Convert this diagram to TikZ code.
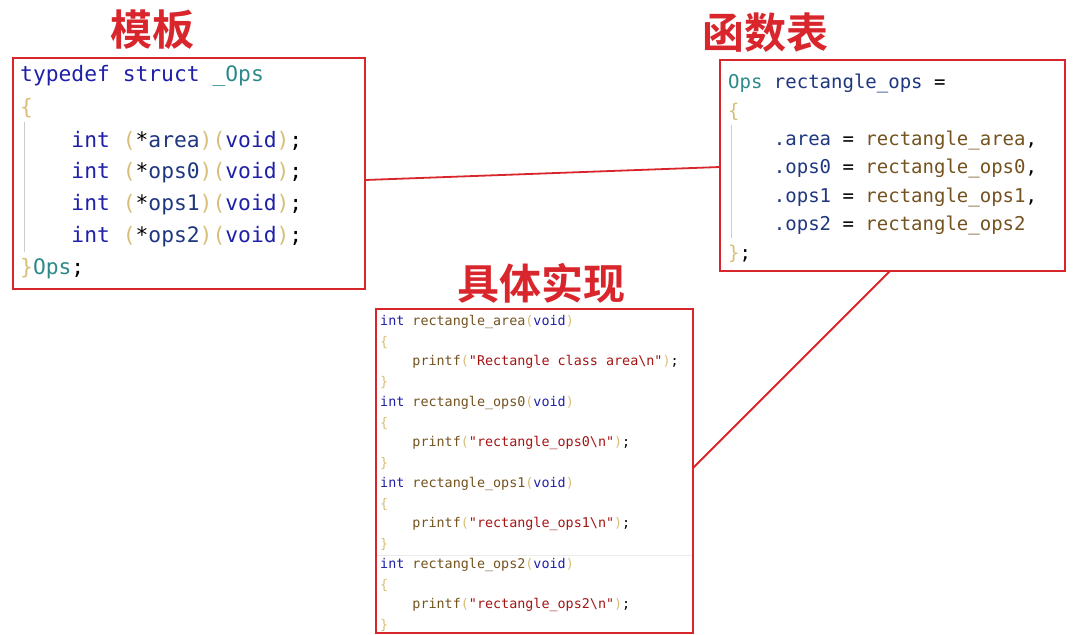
\documentclass[tikz,border=0pt]{standalone}
\usepackage{fontspec}
\setmonofont{DejaVu Sans Mono}
\newfontfamily\cjk{Noto Sans CJK SC Bold}
\definecolor{kw}{HTML}{1F1FA8}
\definecolor{ty}{HTML}{2E8A8A}
\definecolor{br}{HTML}{D8BE78}
\definecolor{fn}{HTML}{74531F}
\definecolor{st}{HTML}{A31515}
\definecolor{mb}{HTML}{1F377F}
\definecolor{bx}{HTML}{D9262C}
\begin{document}
\begin{tikzpicture}[x=1pt,y=-1pt,
  box/.style={draw=bx,line width=2pt},
  link/.style={draw=bx,line width=1.8pt},
  title/.style={text=bx,font=\cjk\fontsize{42}{44}\selectfont,inner sep=0pt},
  codeA/.style={anchor=west,inner sep=0pt,font=\ttfamily\fontsize{21.3}{24}\selectfont},
  codeB/.style={anchor=west,inner sep=0pt,font=\ttfamily\fontsize{19}{22}\selectfont},
  codeC/.style={anchor=west,inner sep=0pt,font=\ttfamily\fontsize{13.4}{16}\selectfont},
  guide/.style={draw=black!20,line width=0.6pt}]
\useasboundingbox (0,0) rectangle (1080,635);
\fill[white] (0,0) rectangle (1080,635);
% titles
\node[title] (t1) at (152,30) {模板};
\node[title] (t2) at (765,33) {函数表};
\node[title] (t3) at (541,283) {具体实现};
% boxes
\draw[box] (13,58) rectangle (365,289);
\coordinate (Lr) at (365,180);
\draw[box] (720,60) rectangle (1065,271);
\coordinate (Rl) at (720,167);
\coordinate (Rb) at (890,271);
\draw[box] (376,309) rectangle (693,633);
\coordinate (Br) at (693,468);
\draw[link] (Lr) -- (Rl);
\draw[link] (Rb) -- (Br);
% left code
\draw[guide] (24,122) -- (24,252);
\node[codeA] (a1) at (20,76) {\textcolor{kw}{typedef struct} \textcolor{ty}{\_Ops}};
\node[codeA] (a2) at (20,108) {\textcolor{br}{\{}};
\node[codeA] (a3) at (20,141) {\phantom{xxxx}\textcolor{kw}{int} \textcolor{br}{(}*\textcolor{mb}{area}\textcolor{br}{)(}\textcolor{kw}{void}\textcolor{br}{)};};
\node[codeA] (a4) at (20,173) {\phantom{xxxx}\textcolor{kw}{int} \textcolor{br}{(}*\textcolor{mb}{ops0}\textcolor{br}{)(}\textcolor{kw}{void}\textcolor{br}{)};};
\node[codeA] (a5) at (20,205) {\phantom{xxxx}\textcolor{kw}{int} \textcolor{br}{(}*\textcolor{mb}{ops1}\textcolor{br}{)(}\textcolor{kw}{void}\textcolor{br}{)};};
\node[codeA] (a6) at (20,237) {\phantom{xxxx}\textcolor{kw}{int} \textcolor{br}{(}*\textcolor{mb}{ops2}\textcolor{br}{)(}\textcolor{kw}{void}\textcolor{br}{)};};
\node[codeA] (a7) at (20,269) {\textcolor{br}{\}}\textcolor{ty}{Ops};};
% right code
\draw[guide] (731,125) -- (731,238);
\node[codeB] (b1) at (728,83) {\textcolor{ty}{Ops} \textcolor{mb}{rectangle\_ops} =};
\node[codeB] (b2) at (728,112) {\textcolor{br}{\{}};
\node[codeB] (b3) at (728,140) {\phantom{xxxx}\textcolor{mb}{.area} = \textcolor{fn}{rectangle\_area},};
\node[codeB] (b4) at (728,168) {\phantom{xxxx}\textcolor{mb}{.ops0} = \textcolor{fn}{rectangle\_ops0},};
\node[codeB] (b5) at (728,197) {\phantom{xxxx}\textcolor{mb}{.ops1} = \textcolor{fn}{rectangle\_ops1},};
\node[codeB] (b6) at (728,225) {\phantom{xxxx}\textcolor{mb}{.ops2} = \textcolor{fn}{rectangle\_ops2}};
\node[codeB] (b7) at (728,254) {\textcolor{br}{\}};};
% bottom code
\draw[black!8,line width=0.8pt] (377,555) -- (692,555);
\node[codeC] (c1) at (380,322) {\textcolor{kw}{int} \textcolor{fn}{rectangle\_area}\textcolor{br}{(}\textcolor{kw}{void}\textcolor{br}{)}};
\node[codeC] (c2) at (380,342) {\textcolor{br}{\{}};
\node[codeC] (c3) at (380,362) {\phantom{xxxx}\textcolor{fn}{printf}\textcolor{br}{(}\textcolor{st}{"Rectangle class area\textbackslash n"}\textcolor{br}{)};};
\node[codeC] (c4) at (380,382) {\textcolor{br}{\}}};
\node[codeC] (c5) at (380,403) {\textcolor{kw}{int} \textcolor{fn}{rectangle\_ops0}\textcolor{br}{(}\textcolor{kw}{void}\textcolor{br}{)}};
\node[codeC] (c6) at (380,423) {\textcolor{br}{\{}};
\node[codeC] (c7) at (380,443) {\phantom{xxxx}\textcolor{fn}{printf}\textcolor{br}{(}\textcolor{st}{"rectangle\_ops0\textbackslash n"}\textcolor{br}{)};};
\node[codeC] (c8) at (380,463) {\textcolor{br}{\}}};
\node[codeC] (c9) at (380,484) {\textcolor{kw}{int} \textcolor{fn}{rectangle\_ops1}\textcolor{br}{(}\textcolor{kw}{void}\textcolor{br}{)}};
\node[codeC] (c10) at (380,504) {\textcolor{br}{\{}};
\node[codeC] (c11) at (380,524) {\phantom{xxxx}\textcolor{fn}{printf}\textcolor{br}{(}\textcolor{st}{"rectangle\_ops1\textbackslash n"}\textcolor{br}{)};};
\node[codeC] (c12) at (380,544) {\textcolor{br}{\}}};
\node[codeC] (c13) at (380,565) {\textcolor{kw}{int} \textcolor{fn}{rectangle\_ops2}\textcolor{br}{(}\textcolor{kw}{void}\textcolor{br}{)}};
\node[codeC] (c14) at (380,585) {\textcolor{br}{\{}};
\node[codeC] (c15) at (380,605) {\phantom{xxxx}\textcolor{fn}{printf}\textcolor{br}{(}\textcolor{st}{"rectangle\_ops2\textbackslash n"}\textcolor{br}{)};};
\node[codeC] (c16) at (380,625) {\textcolor{br}{\}}};
\end{tikzpicture}
\end{document}
